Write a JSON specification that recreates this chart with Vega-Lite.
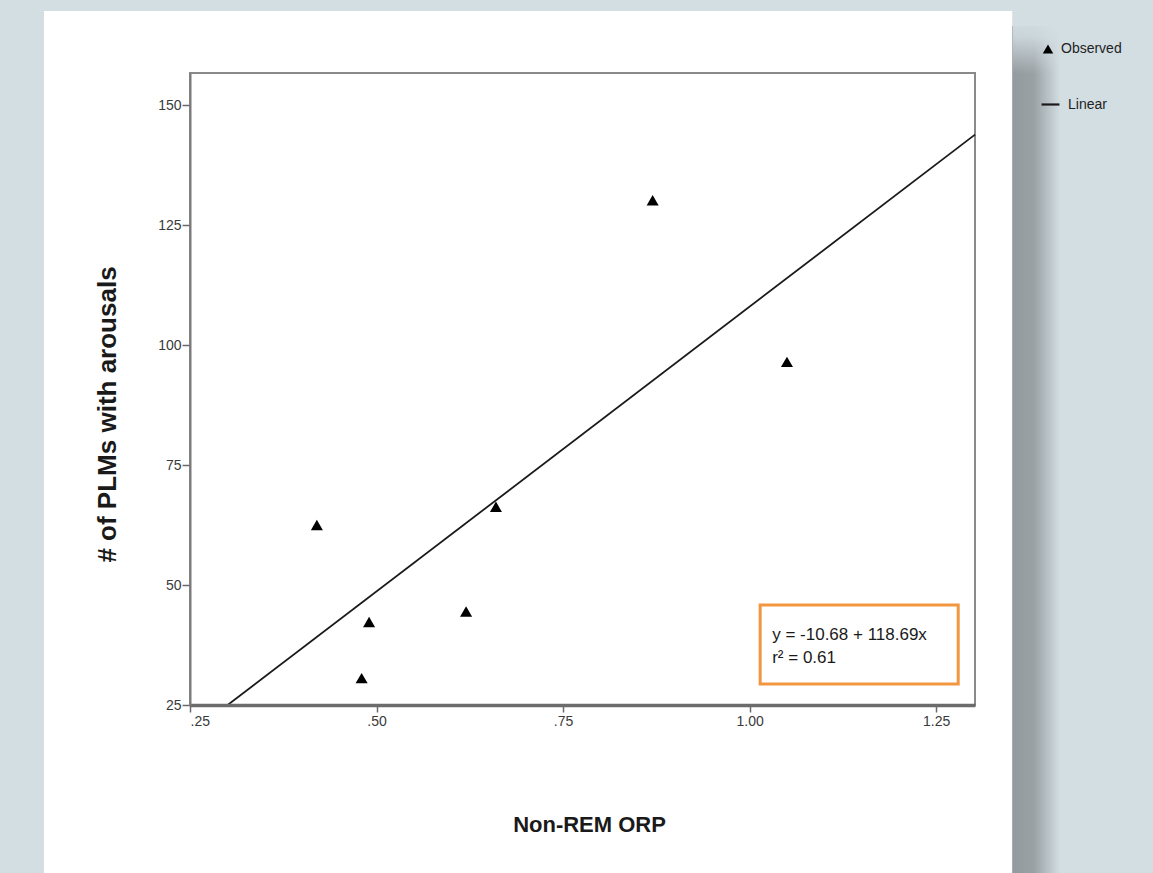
{
  "$schema": "https://vega.github.io/schema/vega-lite/v6.json",
  "width": 785,
  "height": 632,
  "autosize": "none",
  "padding": {"left": 190, "top": 73, "right": 178, "bottom": 168},
  "background": "#d3dee3",
  "config": {
    "view": {"stroke": null, "fill": null},
    "font": "Liberation Sans"
  },
  "data": {
    "values": [
      {"orp": 0.42, "plms": 62.5},
      {"orp": 0.48, "plms": 30.6},
      {"orp": 0.49, "plms": 42.3},
      {"orp": 0.62, "plms": 44.5},
      {"orp": 0.66, "plms": 66.3},
      {"orp": 0.87, "plms": 130.2},
      {"orp": 1.05, "plms": 96.5}
    ]
  },
  "layer": [
    {
      "data": {"values": [{}]},
      "mark": {"type": "rect", "fill": "white", "clip": false},
      "encoding": {
        "x": {"datum": 0.0543, "type": "quantitative", "scale": {"domain": [0.25, 1.302], "nice": false, "zero": false}},
        "x2": {"datum": 1.3519},
        "y": {"datum": 169.6, "type": "quantitative", "scale": {"domain": [25, 156.7], "nice": false, "zero": false}},
        "y2": {"datum": -10}
      }
    },
    {
      "data": {"values": [{}]},
      "mark": {
        "type": "rect",
        "clip": false,
        "fill": {
          "gradient": "linear",
          "x1": 0, "y1": 0, "x2": 1, "y2": 0,
          "stops": [
            {"offset": 0, "color": "#949b9f"},
            {"offset": 0.45, "color": "#9aa1a5"},
            {"offset": 1, "color": "#d3dee3"}
          ]
        }
      },
      "encoding": {
        "x": {"datum": 1.3519, "type": "quantitative"},
        "x2": {"datum": 1.4162},
        "y": {"datum": 166.5, "type": "quantitative"},
        "y2": {"datum": -10}
      }
    },
    {
      "data": {"values": [{}]},
      "mark": {
        "type": "rect",
        "clip": false,
        "fill": {
          "gradient": "linear",
          "x1": 0, "y1": 0, "x2": 0, "y2": 1,
          "stops": [
            {"offset": 0, "color": "rgba(211,222,227,1)"},
            {"offset": 0.35, "color": "rgba(211,222,227,0.85)"},
            {"offset": 1, "color": "rgba(211,222,227,0)"}
          ]
        }
      },
      "encoding": {
        "x": {"datum": 1.3525, "type": "quantitative"},
        "x2": {"datum": 1.4175},
        "y": {"datum": 168.5, "type": "quantitative"},
        "y2": {"datum": 156.5}
      }
    },
    {
      "data": {"values": [{}]},
      "mark": {"type": "rect", "fill": null, "stroke": "#8a8a8a", "strokeWidth": 2, "clip": false},
      "encoding": {
        "x": {"datum": 0.25, "type": "quantitative"},
        "x2": {"datum": 1.302},
        "y": {"datum": 25, "type": "quantitative"},
        "y2": {"datum": 156.7}
      }
    },
    {
      "data": {"values": [{"orp": 0.3, "plms": 24.93}, {"orp": 1.302, "plms": 143.86}]},
      "mark": {"type": "line", "strokeWidth": 1.8, "clip": false},
      "encoding": {
        "x": {"field": "orp", "type": "quantitative"},
        "y": {"field": "plms", "type": "quantitative"},
        "color": {
          "datum": "Linear",
          "scale": {"domain": ["Linear"], "range": ["#1a1a1a"]},
          "legend": {
            "title": null,
            "orient": "none",
            "legendX": 850,
            "legendY": 21,
            "labelFontSize": 14,
            "labelColor": "#222",
            "symbolType": "stroke",
            "symbolSize": 320,
            "symbolStrokeWidth": 2.2,
            "symbolStrokeColor": "#1a1a1a",
            "labelOffset": 7
          }
        }
      }
    },
    {
      "mark": {"type": "point", "filled": true, "color": "black", "size": 145, "opacity": 1},
      "encoding": {
        "x": {
          "field": "orp", "type": "quantitative",
          "axis": {
            "title": "Non-REM ORP",
            "zindex": 2,
            "values": [0.25, 0.5, 0.75, 1.0, 1.25],
            "labelExpr": "datum.value < 1 ? replace(format(datum.value, '.2f'), '0.', '.') : format(datum.value, '.2f')",
            "domainColor": "#6b6b6b",
            "domainWidth": 3.5,
            "tickColor": "#6b6b6b",
            "tickWidth": 1.5,
            "tickSize": 7,
            "labelFontSize": 14,
            "labelColor": "#3a3a3a",
            "labelPadding": 2,
            "grid": false,
            "titleFontSize": 22,
            "titleFontWeight": "bold",
            "titleColor": "#1a1a1a",
            "titleX": 399,
            "titleY": 126,
            "titleBaseline": "alphabetic"
          }
        },
        "y": {
          "field": "plms", "type": "quantitative",
          "axis": {
            "title": "# of PLMs with arousals",
            "zindex": 2,
            "values": [25, 50, 75, 100, 125, 150],
            "domainColor": "#7a7a7a",
            "domainWidth": 2,
            "tickColor": "#6b6b6b",
            "tickWidth": 1.5,
            "tickSize": 8,
            "labelFontSize": 14,
            "labelColor": "#3a3a3a",
            "labelPadding": 1,
            "grid": false,
            "titleFontSize": 26,
            "titleFontWeight": "bold",
            "titleColor": "#1a1a1a",
            "titleX": -75,
            "titleY": 341,
            "titleAngle": 270,
            "titleAlign": "center",
            "titleBaseline": "alphabetic"
          }
        },
        "shape": {
          "datum": "Observed",
          "scale": {"domain": ["Observed"], "range": ["triangle-up"]},
          "legend": {
            "title": null,
            "orient": "none",
            "legendX": 851,
            "legendY": -31,
            "labelFontSize": 14,
            "labelColor": "#222",
            "symbolSize": 110,
            "symbolFillColor": "black",
            "labelOffset": 6
          }
        }
      }
    },
    {
      "data": {"values": [{}]},
      "mark": {"type": "rect", "fill": "white", "stroke": "#f2963f", "strokeWidth": 3, "clip": false},
      "encoding": {
        "x": {"datum": 1.0141, "type": "quantitative"},
        "x2": {"datum": 1.2795},
        "y": {"datum": 45.83, "type": "quantitative"},
        "y2": {"datum": 29.375}
      }
    },
    {
      "data": {"values": [{}]},
      "mark": {"type": "text", "align": "left", "baseline": "alphabetic", "fontSize": 17, "color": "#1a1a1a", "lineHeight": 23, "clip": false},
      "encoding": {
        "x": {"datum": 1.0302, "type": "quantitative"},
        "y": {"datum": 38.54, "type": "quantitative"},
        "text": {"value": ["y = -10.68 + 118.69x", "r² = 0.61"]}
      }
    }
  ]
}
